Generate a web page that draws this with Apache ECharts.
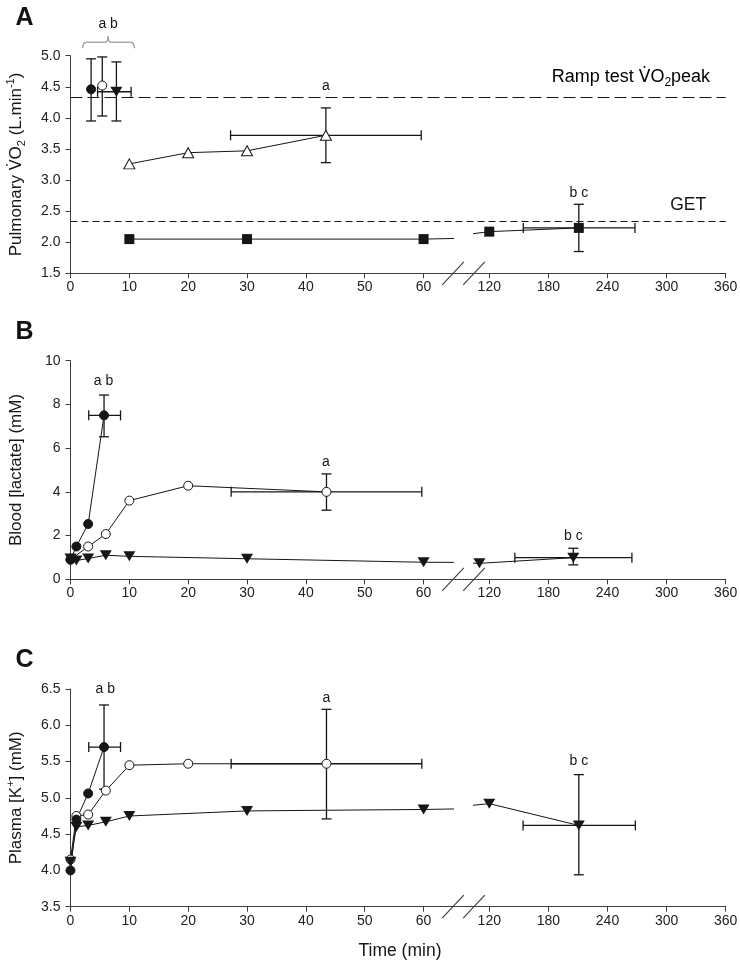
<!DOCTYPE html>
<html><head><meta charset="utf-8">
<script src="https://cdn.jsdelivr.net/npm/echarts@6.0.0/dist/echarts.min.js"></script>
<style>html,body{margin:0;padding:0;background:#fff}#c{width:740px;height:964px}</style>
</head><body><div id="c"></div>
<script>
// ---------- tick labels ----------
const leftTimeTicks = [0, 10, 20, 30, 40, 50, 60];
const rightTimeTicks = [120, 180, 240, 300, 360];
const aYTicks = [1.5, 2.0, 2.5, 3.0, 3.5, 4.0, 4.5, 5.0];
const bYTicks = [0, 2, 4, 6, 8, 10];
const cYTicks = [3.5, 4.0, 4.5, 5.0, 5.5, 6.0, 6.5];

// ---------- Panel A : pulmonary VO2 ----------
const aFilledCircle = [[3.5, 4.46]];
const aOpenCircle = [[5.4, 4.52]];
const aFilledTriDown = [[7.8, 4.42]];
const aOpenTriUp = [[10, 3.26], [20, 3.44], [30, 3.47], [43.4, 3.72]];
const aFilledSquare = [[10, 2.05], [30, 2.05], [60, 2.05], [120, 2.17], [210.9, 2.23]];
const aYErr = [[3.5, 4.46, 3.95, 4.95], [5.4, 4.52, 4.03, 4.98], [7.8, 4.42, 3.95, 4.90], [43.4, 3.72, 3.28, 4.16], [210.9, 2.23, 1.85, 2.61]];
const aXErr = [[7.8, 4.42, 4.6, 10.3], [43.4, 3.72, 27.2, 59.6], [210.9, 2.23, 154.5, 267.9]];
const aRampPeak = 4.33;
const aGET = 2.34;
const aNotes = [['a b', 6.4, 5.51], ['a', 43.4, 4.51], ['b c', 210.9, 2.79]];
const aRefNotes = [['ramp', 183.4, 4.65], ['GET', 303.6, 2.60]];
const aBracket = [2.07, 10.85, 6.4]; // from, to, centre (min)

// ---------- Panel B : blood lactate ----------
const bOpenCircle = [[0, 0.9], [3, 1.5], [6, 2.07], [10, 3.6], [20, 4.28], [43.5, 4.0]];
const bFilledCircle = [[0, 0.9], [1, 1.5], [3, 2.53], [5.7, 7.5]];
const bFilledTriDown = [[0, 0.95], [1, 0.86], [3, 0.95], [6, 1.1], [10, 1.05], [30, 0.94], [60, 0.78], [110, 0.73], [205.3, 0.99]];
const bYErr = [[5.7, 7.5, 6.52, 8.43], [43.5, 4.0, 3.16, 4.82], [205.3, 0.99, 0.66, 1.42]];
const bXErr = [[5.7, 7.5, 3.1, 8.5], [43.5, 4.0, 27.3, 59.7], [205.3, 0.99, 146, 264.8]];
const bNotes = [['a b', 5.6, 9.08], ['a', 43.4, 5.38], ['b c', 205.3, 1.98]];

// ---------- Panel C : plasma K+ ----------
const cOpenCircle = [[0, 4.15], [1, 4.75], [3, 4.77], [6, 5.1], [10, 5.45], [20, 5.47], [43.5, 5.47]];
const cFilledCircle = [[0, 4.0], [1, 4.7], [3, 5.06], [5.7, 5.7]];
const cFilledTriDown = [[0, 4.12], [1, 4.6], [3, 4.62], [6, 4.67], [10, 4.75], [30, 4.82], [60, 4.84], [120, 4.92], [210.9, 4.62]];
const cYErr = [[5.7, 5.7, 5.12, 6.28], [43.5, 5.47, 4.71, 6.22], [210.9, 4.62, 3.94, 5.32]];
const cXErr = [[5.7, 5.7, 3.1, 8.5], [43.5, 5.47, 27.3, 59.7], [210.9, 4.62, 154.3, 268.3]];
const cNotes = [['a b', 5.9, 6.5], ['a', 43.5, 6.38], ['b c', 210.9, 5.5]];

// ---------- layout / style ----------
const FONT = '"Liberation Sans", Arial, Helvetica, sans-serif';
const DOTFONT = '"DejaVu Sans", "Liberation Sans", sans-serif';
const INK = '#161616';
const AXIS = '#3c3c3c';
const L = 70.5, BREAK_L = 453, BREAK_R = 474, R = 725.7;
const LEFT_MAX = 65.0;     // left segment: 0 .. 65 min
const RIGHT_MIN = 104.5;   // right segment: 104.5 .. 360 min

const markerStyles = {
  filledCircle: { symbol: 'circle', symbolSize: 9, itemStyle: { color: INK, borderColor: INK, borderWidth: 1 } },
  openCircle: { symbol: 'circle', symbolSize: 9, itemStyle: { color: '#fff', borderColor: INK, borderWidth: 1 } },
  filledTriDown: { symbol: 'triangle', symbolSize: [12, 10], symbolRotate: 180, itemStyle: { color: INK } },
  openTriUp: { symbol: 'triangle', symbolSize: [11, 10], itemStyle: { color: '#fff', borderColor: INK, borderWidth: 1 } },
  filledSquare: { symbol: 'rect', symbolSize: 10, itemStyle: { color: INK } }
};

const nameRich = {
  t: { fontFamily: FONT, fontSize: 17, color: INK, lineHeight: 22 },
  v: { fontFamily: DOTFONT, fontSize: 16, color: INK, lineHeight: 22 },
  s: { fontFamily: FONT, fontSize: 11, color: INK, lineHeight: 11, verticalAlign: 'bottom' },
  p: { fontFamily: FONT, fontSize: 11, color: INK, lineHeight: 11, verticalAlign: 'top' }
};
const refRich = {
  t: { fontFamily: FONT, fontSize: 18, color: INK, lineHeight: 23 },
  v: { fontFamily: DOTFONT, fontSize: 17, color: INK, lineHeight: 23 },
  s: { fontFamily: FONT, fontSize: 12, color: INK, lineHeight: 12, verticalAlign: 'bottom' }
};

const panels = [
  {
    letter: 'A', top: 55.7, height: 217.6, yTicks: aYTicks, dec: 1,
    name: '{t|Pulmonary }{v|V\u0307}{t|O}{s|2}{t| (L.min}{p|-1}{t|)}',
    series: [['filledCircle', aFilledCircle], ['openCircle', aOpenCircle], ['filledTriDown', aFilledTriDown], ['openTriUp', aOpenTriUp], ['filledSquare', aFilledSquare]],
    yErr: aYErr, xErr: aXErr, notes: aNotes,
    refs: [{ value: aRampPeak, dash: [12, 5] }, { value: aGET, dash: [7, 4] }]
  },
  {
    letter: 'B', top: 360.7, height: 218.6, yTicks: bYTicks, dec: 0,
    name: '{t|Blood [lactate] (mM)}',
    series: [['openCircle', bOpenCircle], ['filledCircle', bFilledCircle], ['filledTriDown', bFilledTriDown]],
    yErr: bYErr, xErr: bXErr, notes: bNotes, refs: []
  },
  {
    letter: 'C', top: 689, height: 217.7, yTicks: cYTicks, dec: 1,
    name: '{t|Plasma [K}{p|+}{t|] (mM)}',
    series: [['openCircle', cOpenCircle], ['filledTriDown', cFilledTriDown], ['filledCircle', cFilledCircle]],
    yErr: cYErr, xErr: cXErr, notes: cNotes, refs: []
  }
];

function vErrRender(params, api) {
  const x = api.value(0), lo = api.value(2), hi = api.value(3);
  const a = api.coord([x, lo]), b = api.coord([x, hi]);
  const st = { stroke: INK, lineWidth: 1.3 };
  return { type: 'group', children: [
    { type: 'line', shape: { x1: a[0], y1: a[1], x2: b[0], y2: b[1] }, style: st },
    { type: 'line', shape: { x1: a[0] - 5, y1: a[1], x2: a[0] + 5, y2: a[1] }, style: st },
    { type: 'line', shape: { x1: b[0] - 5, y1: b[1], x2: b[0] + 5, y2: b[1] }, style: st }
  ] };
}
function hErrRender(params, api) {
  const y = api.value(1), lo = api.value(2), hi = api.value(3);
  const a = api.coord([lo, y]), b = api.coord([hi, y]);
  const st = { stroke: INK, lineWidth: 1.3 };
  return { type: 'group', children: [
    { type: 'line', shape: { x1: a[0], y1: a[1], x2: b[0], y2: b[1] }, style: st },
    { type: 'line', shape: { x1: a[0], y1: a[1] - 5, x2: a[0], y2: a[1] + 5 }, style: st },
    { type: 'line', shape: { x1: b[0], y1: b[1] - 5, x2: b[0], y2: b[1] + 5 }, style: st }
  ] };
}

const grid = [], xAxis = [], yAxis = [], series = [];
const labelStyle = { fontFamily: FONT, fontSize: 14, color: '#222' };

panels.forEach((p, i) => {
  const gi = i * 3;
  const yMin = p.yTicks[0], yMax = p.yTicks[p.yTicks.length - 1];
  const yInt = p.yTicks[1] - p.yTicks[0];
  const gBase = { top: p.top, height: p.height, containLabel: false, outerBoundsMode: 'none' };
  grid.push(Object.assign({ left: L, width: BREAK_L - L }, gBase));
  grid.push(Object.assign({ left: BREAK_R, width: R - BREAK_R }, gBase));
  grid.push(Object.assign({ left: L, width: R - L }, gBase));

  xAxis.push({ gridIndex: gi, type: 'value', min: 0, max: LEFT_MAX,
    axisLine: { show: true, onZero: false, lineStyle: { color: AXIS, width: 1 } },
    axisTick: { show: true, customValues: leftTimeTicks, length: 5, lineStyle: { color: AXIS } },
    axisLabel: Object.assign({ customValues: leftTimeTicks, margin: 7 }, labelStyle),
    splitLine: { show: false } });
  xAxis.push({ gridIndex: gi + 1, type: 'value', min: RIGHT_MIN, max: 360,
    axisLine: { show: true, onZero: false, lineStyle: { color: AXIS, width: 1 } },
    axisTick: { show: true, customValues: rightTimeTicks, length: 5, lineStyle: { color: AXIS } },
    axisLabel: Object.assign({ customValues: rightTimeTicks, margin: 7 }, labelStyle),
    splitLine: { show: false } });
  xAxis.push({ gridIndex: gi + 2, type: 'value', min: 0, max: 1,
    axisLine: { show: true, onZero: false, lineStyle: { color: AXIS, width: 1 } },
    axisTick: { show: false }, axisLabel: { show: false }, splitLine: { show: false } });

  yAxis.push({ gridIndex: gi, type: 'value', min: yMin, max: yMax, interval: yInt,
    axisLine: { show: true, lineStyle: { color: AXIS, width: 1 } },
    axisTick: { show: true, length: 5, lineStyle: { color: AXIS } },
    axisLabel: Object.assign({ margin: 10, formatter: v => v.toFixed(p.dec) }, labelStyle),
    splitLine: { show: false },
    name: p.name, nameLocation: 'middle', nameGap: 43,
    nameTextStyle: { rich: nameRich } });
  yAxis.push({ gridIndex: gi + 1, type: 'value', min: yMin, max: yMax, show: false, splitLine: { show: false } });
  yAxis.push({ gridIndex: gi + 2, type: 'value', min: yMin, max: yMax, show: false, splitLine: { show: false } });

  // reference lines on the full-width overlay grid
  if (p.refs.length) {
    series.push({ type: 'line', xAxisIndex: gi + 2, yAxisIndex: gi + 2, data: [], silent: true,
      markLine: { silent: true, symbol: 'none', label: { show: false }, animation: false,
        data: p.refs.map(r => ({ yAxis: r.value, lineStyle: { type: r.dash, color: INK, width: 1 } })) } });
  }

  // error bars
  [[gi, d => d[0] <= LEFT_MAX], [gi + 1, d => d[0] >= RIGHT_MIN]].forEach(([g, test]) => {
    const ye = p.yErr.filter(test), xe = p.xErr.filter(test);
    if (ye.length) series.push({ type: 'custom', xAxisIndex: g, yAxisIndex: g, data: ye, renderItem: vErrRender, z: 2, silent: true, encode: { x: 0, y: 1 } });
    if (xe.length) series.push({ type: 'custom', xAxisIndex: g, yAxisIndex: g, data: xe, renderItem: hErrRender, z: 2, silent: true, encode: { x: 0, y: 1 } });
  });

  // data series (drawn in each segment that holds any of their points; lines clip at the break)
  p.series.forEach(([kind, data]) => {
    const st = markerStyles[kind];
    const inLeft = data.some(d => d[0] <= LEFT_MAX), inRight = data.some(d => d[0] >= RIGHT_MIN);
    [[gi, inLeft], [gi + 1, inRight]].forEach(([g, ok]) => {
      if (!ok) return;
      series.push(Object.assign({ type: 'line', xAxisIndex: g, yAxisIndex: g, data: data, clip: true, silent: true, z: 3,
        showAllSymbol: true, lineStyle: { color: INK, width: 1 } }, st));
    });
  });
});

const chart = echarts.init(document.getElementById('c'), null, { renderer: 'canvas' });
chart.setOption({ animation: false, backgroundColor: '#fff', grid, xAxis, yAxis, series });

// ---------- annotations (positioned through the axes) ----------
const graphics = [];
const txt = (x, y, text, extra) => graphics.push({ type: 'text', x, y, silent: true,
  style: Object.assign({ text, fontFamily: FONT, fontSize: 14, fill: INK, align: 'center', verticalAlign: 'middle' }, extra || {}) });
const seg = (x1, y1, x2, y2, stroke, w) => graphics.push({ type: 'line', silent: true,
  shape: { x1, y1, x2, y2 }, style: { stroke, lineWidth: w } });
const qc = (x1, y1, cx, cy, x2, y2, stroke, w) => graphics.push({ type: 'bezierCurve', silent: true,
  shape: { x1, y1, cpx1: cx, cpy1: cy, x2, y2 }, style: { stroke, lineWidth: w, fill: null } });

panels.forEach((p, i) => {
  const gi = i * 3;
  const pt = (x, y) => chart.convertToPixel({ gridIndex: x <= LEFT_MAX ? gi : gi + 1 }, [x, y]);
  const letterY = p.top - (i === 0 ? 38 : 29);
  txt(24.5, letterY, p.letter, { fontSize: 25, fontWeight: 'bold', fill: '#111' });
  p.notes.forEach(([t, x, y]) => { const c = pt(x, y); txt(c[0], c[1], t); });
  // axis breaks
  const by = p.top + p.height;
  [BREAK_L, BREAK_R].forEach(bx => seg(bx - 10.8, by + 11.5, bx + 10.8, by - 11.5, AXIS, 1.1));
});

// panel A reference-line labels
{
  const r = chart.convertToPixel({ gridIndex: 1 }, [aRefNotes[0][1], aRefNotes[0][2]]);
  graphics.push({ type: 'text', x: r[0], y: r[1], silent: true, style: {
    text: '{t|Ramp test }{v|V\u0307}{t|O}{s|2}{t|peak}', align: 'left', verticalAlign: 'middle',
    rich: refRich } });
  const g = chart.convertToPixel({ gridIndex: 1 }, [aRefNotes[1][1], aRefNotes[1][2]]);
  txt(g[0], g[1], 'GET', { fontSize: 17.5, align: 'left' });
  // bracket over the high-intensity points
  const a0 = chart.convertToPixel({ gridIndex: 0 }, [aBracket[0], 5.12]);
  const a1 = chart.convertToPixel({ gridIndex: 0 }, [aBracket[1], 5.12]);
  const ac = chart.convertToPixel({ gridIndex: 0 }, [aBracket[2], 5.12]);
  const yb = a0[1], ym = yb - 6, yt = yb - 12, BC = '#9a9a9a', BW = 1.3;
  qc(a0[0], yb, a0[0], ym, a0[0] + 4, ym, BC, BW);
  seg(a0[0] + 4, ym, ac[0] - 3, ym, BC, BW);
  qc(ac[0] - 3, ym, ac[0], ym, ac[0], yt, BC, BW);
  qc(ac[0], yt, ac[0], ym, ac[0] + 3, ym, BC, BW);
  seg(ac[0] + 3, ym, a1[0] - 4, ym, BC, BW);
  qc(a1[0] - 4, ym, a1[0], ym, a1[0], yb, BC, BW);
}
txt(400, 951, 'Time (min)', { fontSize: 17.5 });

chart.setOption({ graphic: graphics });
</script></body></html>
